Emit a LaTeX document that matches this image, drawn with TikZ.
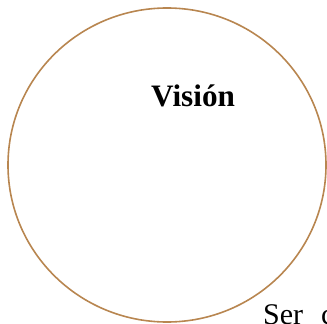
\documentclass[tikz,border=0pt]{standalone}
\usepackage{fontspec}
\setmainfont{Liberation Serif}
\usetikzlibrary{positioning}
\definecolor{visionbrown}{RGB}{184,134,80}

\begin{document}
\begin{tikzpicture}[x=1pt,y=-1pt,line cap=round,line join=round]
 \useasboundingbox (0,0) rectangle (327,324);
 \draw[visionbrown,line width=1.6pt] (167,165) ellipse [x radius=159,y radius=157];
 \node[font=\fontsize{31.2}{36}\selectfont\bfseries,anchor=base west,inner sep=0pt]
  (titulo) at (151,106) {Visión};
 \node[font=\fontsize{30}{34}\selectfont,anchor=base west,inner sep=0pt]
  (texto) at (263,324.5) {Ser\hspace{18pt}c};
\end{tikzpicture}
\end{document}
